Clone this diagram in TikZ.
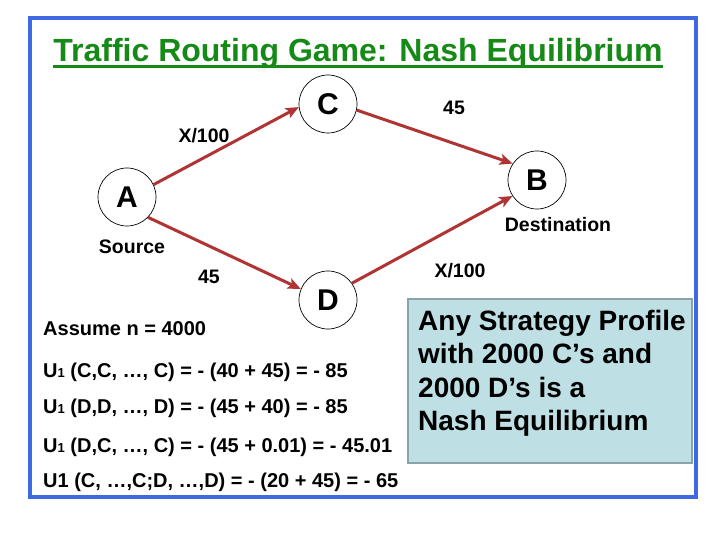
\documentclass[tikz,border=0pt]{standalone}
\usepackage{fontspec}
\setmainfont{Liberation Sans}
\usetikzlibrary{arrows.meta}
\definecolor{frameblue}{RGB}{64,104,224}
\definecolor{titlegreen}{RGB}{22,138,22}
\definecolor{edgered}{RGB}{176,52,52}
\definecolor{boxfill}{RGB}{190,224,228}
\definecolor{boxedge}{RGB}{138,162,170}
\newcommand{\smallone}{{\fontsize{13}{13}\selectfont 1}}
\begin{document}
\begin{tikzpicture}[x=1pt,y=-1pt,
  vertex/.style={circle,draw=black,line width=0.7pt,fill=white,minimum size=58pt,inner sep=0pt,font=\fontsize{30}{30}\selectfont\bfseries},
  lbl/.style={inner sep=0pt,anchor=base,font=\fontsize{19.5}{19.5}\selectfont\bfseries},
  eqline/.style={inner sep=0pt,anchor=base west,font=\fontsize{20}{20}\selectfont\bfseries},
  boxtext/.style={inner sep=0pt,anchor=base west,font=\fontsize{28}{28}\selectfont\bfseries},
  route/.style={draw=edgered,line width=3pt,-{Stealth[length=13pt,width=11pt,inset=3pt]}}
]
\useasboundingbox (0,0) rectangle (720,540);
\fill[white] (0,0) rectangle (720,540);
% frame
\draw[frameblue,line width=4pt] (30,18) rectangle (696,497);
% title
\node (title) [inner sep=0pt,anchor=base,text=titlegreen,font=\fontsize{32}{32}\selectfont\bfseries] at (358,62) {Traffic Routing Game: Nash Equilibrium};
\draw[titlegreen,line width=2.5pt] ([yshift=-4.5pt]title.base west) -- ([yshift=-4.5pt]title.base east);
% nodes
\node (A) [vertex] at (127,197) {A};
\node (B) [vertex] at (537,180) {B};
\node (C) [vertex] at (328,104) {C};
\node (D) [vertex] at (328,300) {D};
% edges
\draw[route] (A.25) -- (C.186);
\draw[route] (C.-12) -- (B.146);
\draw[route] (A.-44) -- (D.158);
\draw[route] (D.35) -- (B.213);
% labels
\node (lac) [lbl] at (204,143) {X/100};
\node (lcb) [lbl] at (454,115) {45};
\node (lad) [lbl] at (209,283) {45};
\node (ldb) [lbl] at (460,277) {X/100};
\node (src) [lbl] at (132,254) {Source};
\node (dst) [lbl] at (558,232) {Destination};
% equations
\node (e0) [eqline] at (43,335) {Assume n = 4000};
\node (e1) [eqline] at (43,377) {U\smallone\ (C,C, …, C) = - (40 + 45) = - 85};
\node (e2) [eqline] at (43,413) {U\smallone\ (D,D, …, D) = - (45 + 40) = - 85};
\node (e3) [eqline] at (43,452) {U\smallone\ (D,C, …, C) = - (45 + 0.01) = - 45.01};
\node (e4) [eqline] at (43,487) {U1 (C, …,C;D, …,D) = - (20 + 45) = - 65};
% box
\node (pbox) [draw=boxedge,fill=boxfill,line width=2.5pt,minimum width=284pt,minimum height=164pt,inner sep=0pt,outer sep=0pt,anchor=north west] at (408,299) {};
\node (p1) [boxtext] at (418,330) {Any Strategy Profile};
\node (p2) [boxtext] at (418,363) {with 2000 C’s and};
\node (p3) [boxtext] at (418,397) {2000 D’s is a};
\node (p4) [boxtext] at (418,430) {Nash Equilibrium};
\end{tikzpicture}
\end{document}
